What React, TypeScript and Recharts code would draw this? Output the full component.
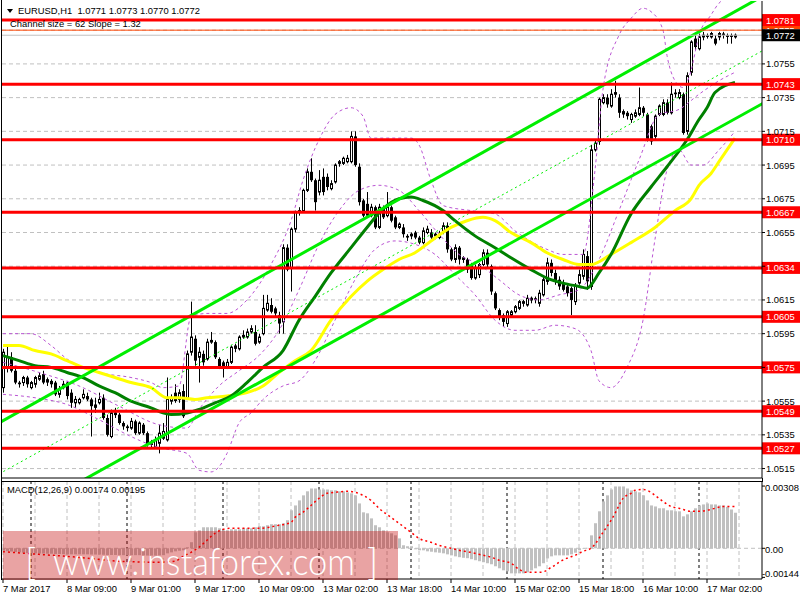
import React from 'react';
import { ComposedChart, Bar, Line, XAxis, YAxis, ReferenceLine, CartesianGrid } from 'recharts';

const FONT = "'Liberation Sans', Arial, sans-serif";

// EURUSD H1, one bar per hour, 7 Mar 17:00 .. 17 Mar 09:00
const opens = [
  1.0563, 1.0575, 1.0581, 1.0573, 1.0566, 1.0566, 1.0569, 1.0563, 1.0565, 1.0568,
  1.0571, 1.0568, 1.0567, 1.0566, 1.0559, 1.0563, 1.0566, 1.056, 1.0554, 1.0554,
  1.0557, 1.0558, 1.0556, 1.0553, 1.0554, 1.0557, 1.0545, 1.0534, 1.0547, 1.0547,
  1.0542, 1.054, 1.0539, 1.0543, 1.0536, 1.0541, 1.0536, 1.053, 1.0528, 1.053,
  1.0533, 1.0532, 1.0555, 1.056, 1.0556, 1.0561, 1.0557, 1.0584, 1.0592, 1.0581,
  1.0583, 1.058, 1.059, 1.059, 1.058, 1.0578, 1.0575, 1.0578, 1.0588, 1.0586,
  1.0593, 1.0593, 1.0596, 1.0596, 1.059, 1.0595, 1.0609, 1.0612, 1.061, 1.0606,
  1.0602, 1.0646, 1.0634, 1.0657, 1.0667, 1.0668, 1.068, 1.0691, 1.0686, 1.0679,
  1.0688, 1.0688, 1.0681, 1.0685, 1.0696, 1.0696, 1.0697, 1.0697, 1.0712, 1.0694,
  1.0674, 1.0672, 1.0665, 1.067, 1.0658, 1.067, 1.0665, 1.067, 1.0664, 1.0658,
  1.0658, 1.0653, 1.0653, 1.0655, 1.0652, 1.0649, 1.0655, 1.0655, 1.0653, 1.0652,
  1.0655, 1.0659, 1.0645, 1.0639, 1.0646, 1.0639, 1.0639, 1.0636, 1.0628, 1.063,
  1.0636, 1.0643, 1.0635, 1.0619, 1.0609, 1.0606, 1.0601, 1.0606, 1.0608, 1.061,
  1.0613, 1.0612, 1.0615, 1.0616, 1.0613, 1.0618, 1.0626, 1.0637, 1.0631, 1.0627,
  1.0625, 1.0623, 1.0622, 1.0614, 1.0625, 1.0629, 1.0641, 1.0623, 1.0704, 1.0709,
  1.0732, 1.0735, 1.073, 1.0737, 1.0735, 1.0727, 1.0726, 1.0722, 1.0724, 1.0725,
  1.0729, 1.0725, 1.0718, 1.0712, 1.0725, 1.0725, 1.0732, 1.0726, 1.0738, 1.0735,
  1.0737, 1.0715, 1.075, 1.077, 1.0764, 1.0771, 1.0772, 1.0771, 1.077, 1.0771,
  1.0773, 1.0772, 1.0772, 1.0771,
];
const highs = [
  1.0586, 1.0588, 1.0584, 1.0575, 1.0567, 1.057, 1.057, 1.0567, 1.057, 1.0572,
  1.0573, 1.0569, 1.0568, 1.0567, 1.0564, 1.0567, 1.0567, 1.0562, 1.0558, 1.0557,
  1.0562, 1.056, 1.0557, 1.0557, 1.056, 1.0559, 1.0547, 1.055, 1.0551, 1.0548,
  1.0543, 1.0541, 1.0545, 1.0544, 1.0543, 1.0542, 1.0537, 1.0532, 1.0534, 1.0541,
  1.0542, 1.0569, 1.0559, 1.0565, 1.0562, 1.0565, 1.0585, 1.0614, 1.0594, 1.0587,
  1.0585, 1.0592, 1.0596, 1.0591, 1.0581, 1.0579, 1.058, 1.0588, 1.0589, 1.0594,
  1.0597, 1.0598, 1.06, 1.06, 1.0595, 1.0618, 1.0618, 1.0616, 1.0611, 1.0608,
  1.0648, 1.0648, 1.0658, 1.0668, 1.067, 1.0681, 1.0693, 1.0699, 1.0687, 1.0692,
  1.0693, 1.069, 1.0686, 1.0696, 1.0698, 1.07, 1.0701, 1.0715, 1.0715, 1.0696,
  1.0675, 1.0679, 1.0672, 1.0671, 1.0672, 1.0671, 1.0679, 1.0671, 1.0665, 1.0661,
  1.066, 1.0654, 1.0655, 1.0656, 1.0653, 1.0658, 1.0659, 1.0657, 1.0655, 1.0656,
  1.0661, 1.0661, 1.0646, 1.0648, 1.0647, 1.0641, 1.064, 1.0637, 1.0636, 1.0637,
  1.0645, 1.0645, 1.0636, 1.062, 1.061, 1.0607, 1.0609, 1.0609, 1.0612, 1.0615,
  1.0615, 1.0618, 1.0617, 1.0617, 1.0621, 1.0629, 1.064, 1.0639, 1.0633, 1.0629,
  1.0627, 1.0624, 1.0623, 1.0625, 1.0633, 1.0645, 1.0644, 1.0707, 1.071, 1.0735,
  1.0737, 1.0737, 1.074, 1.0745, 1.0737, 1.0728, 1.0727, 1.0726, 1.0728, 1.0741,
  1.073, 1.0726, 1.0719, 1.0725, 1.0731, 1.0734, 1.0734, 1.0744, 1.074, 1.074,
  1.0738, 1.075, 1.0769, 1.0772, 1.0773, 1.0774, 1.0773, 1.0774, 1.0772, 1.0774,
  1.0774, 1.0773, 1.0773, 1.0773,
];
const lows = [
  1.056, 1.0572, 1.0572, 1.0565, 1.0563, 1.0564, 1.0563, 1.0562, 1.0563, 1.0567,
  1.0565, 1.0564, 1.0563, 1.0558, 1.0557, 1.0562, 1.0556, 1.0551, 1.0551, 1.0553,
  1.0556, 1.0555, 1.0534, 1.0548, 1.0553, 1.0544, 1.0534, 1.0533, 1.0545, 1.0541,
  1.0538, 1.0537, 1.0538, 1.0535, 1.0535, 1.0535, 1.0528, 1.0527, 1.0527, 1.0524,
  1.0532, 1.0531, 1.0553, 1.0554, 1.0554, 1.0545, 1.0556, 1.0582, 1.0576, 1.0566,
  1.0576, 1.0579, 1.0589, 1.058, 1.0574, 1.0569, 1.0574, 1.0577, 1.0584, 1.0585,
  1.0592, 1.0592, 1.0595, 1.0588, 1.0589, 1.0594, 1.0608, 1.0607, 1.0605, 1.0595,
  1.0595, 1.0632, 1.062, 1.0655, 1.0665, 1.0667, 1.0679, 1.0685, 1.0668, 1.0677,
  1.0677, 1.068, 1.068, 1.0684, 1.0694, 1.0695, 1.0696, 1.0696, 1.0694, 1.0671,
  1.0664, 1.0664, 1.0664, 1.0657, 1.0657, 1.0663, 1.0664, 1.0661, 1.0657, 1.0657,
  1.0652, 1.065, 1.0651, 1.0651, 1.0648, 1.0648, 1.0654, 1.0651, 1.0651, 1.0651,
  1.0654, 1.0643, 1.0638, 1.0637, 1.0636, 1.0637, 1.0631, 1.0627, 1.0627, 1.0628,
  1.0635, 1.0634, 1.0618, 1.0609, 1.0603, 1.0599, 1.0599, 1.0605, 1.0607, 1.0609,
  1.0611, 1.0611, 1.0613, 1.0613, 1.0611, 1.0617, 1.0624, 1.0629, 1.0624, 1.0621,
  1.062, 1.0617, 1.0606, 1.0612, 1.0624, 1.0627, 1.0621, 1.0621, 1.0703, 1.0707,
  1.0731, 1.0729, 1.0729, 1.0735, 1.0723, 1.0723, 1.0722, 1.072, 1.0723, 1.0724,
  1.0724, 1.0709, 1.0707, 1.071, 1.0724, 1.0724, 1.0725, 1.0725, 1.0735, 1.0734,
  1.0713, 1.0713, 1.0748, 1.0763, 1.0763, 1.0769, 1.077, 1.077, 1.0766, 1.0769,
  1.077, 1.0767, 1.0767, 1.077,
];
const closes = [
  1.0584, 1.0581, 1.0573, 1.0566, 1.0565, 1.0569, 1.0565, 1.0566, 1.0569, 1.057,
  1.0566, 1.0566, 1.0565, 1.0559, 1.0562, 1.0565, 1.0558, 1.0554, 1.0556, 1.0556,
  1.0559, 1.0556, 1.0552, 1.0551, 1.0556, 1.0545, 1.0535, 1.0548, 1.0548, 1.0542,
  1.054, 1.0539, 1.0543, 1.0536, 1.0542, 1.0536, 1.0529, 1.0529, 1.0532, 1.0536,
  1.0537, 1.0556, 1.0557, 1.0555, 1.056, 1.0546, 1.0583, 1.0593, 1.0579, 1.0584,
  1.0578, 1.059, 1.0591, 1.0581, 1.0575, 1.0575, 1.0578, 1.0587, 1.0586, 1.0593,
  1.0594, 1.0596, 1.0598, 1.0589, 1.0593, 1.061, 1.0613, 1.0608, 1.0607, 1.0601,
  1.0646, 1.0633, 1.0657, 1.0667, 1.0668, 1.068, 1.0691, 1.0686, 1.0673, 1.0686,
  1.0679, 1.0682, 1.0684, 1.0695, 1.0697, 1.0699, 1.0699, 1.0712, 1.0695, 1.0673,
  1.0665, 1.0665, 1.067, 1.0658, 1.067, 1.0664, 1.067, 1.0662, 1.0658, 1.066,
  1.0654, 1.0652, 1.0654, 1.0652, 1.0649, 1.0656, 1.0657, 1.0652, 1.0654, 1.0654,
  1.0659, 1.0645, 1.0639, 1.0646, 1.0639, 1.064, 1.0633, 1.0628, 1.0634, 1.0636,
  1.0643, 1.0636, 1.062, 1.061, 1.0605, 1.0602, 1.0608, 1.0608, 1.0611, 1.0614,
  1.0614, 1.0616, 1.0616, 1.0615, 1.0619, 1.0627, 1.0637, 1.0631, 1.0626, 1.0623,
  1.0621, 1.0619, 1.0615, 1.0623, 1.063, 1.0642, 1.0626, 1.0704, 1.0708, 1.0734,
  1.0735, 1.0731, 1.0737, 1.0738, 1.0726, 1.0725, 1.0724, 1.0725, 1.0726, 1.0729,
  1.0726, 1.071, 1.0709, 1.0724, 1.073, 1.0732, 1.0726, 1.0737, 1.0737, 1.0738,
  1.0714, 1.0748, 1.0768, 1.0765, 1.0771, 1.0772, 1.0771, 1.0773, 1.0767, 1.0773,
  1.0772, 1.0771, 1.0771, 1.0772,
];

// indicator lines, as [bar index, price]
const maYellow = [
  [0, 1.0588], [4, 1.0588], [8, 1.0585], [12, 1.0583], [16, 1.0579], [20, 1.0575], [24, 1.0572],
  [28, 1.0569], [32, 1.0566], [37, 1.0563], [41, 1.0557], [44, 1.0557], [48, 1.0556], [51, 1.0557],
  [56, 1.0558], [61, 1.056], [65, 1.0564], [69, 1.0572], [73, 1.0579], [77, 1.0585], [82, 1.0603],
  [87, 1.0617], [91, 1.0626], [95, 1.0633], [99, 1.0639], [103, 1.0643], [107, 1.065], [112, 1.0658],
  [116, 1.0662], [120, 1.0664], [123, 1.0662], [127, 1.0655], [132, 1.0649], [136, 1.0643],
  [140, 1.0639], [144, 1.0636], [147, 1.0636], [152, 1.0642], [157, 1.0649], [163, 1.0658],
  [168, 1.0668], [172, 1.0675], [174, 1.0683], [177, 1.069], [179, 1.0697], [183, 1.0711],
];
const maGreen = [
  [0, 1.0582], [4, 1.0579], [8, 1.0576], [12, 1.0575], [16, 1.0572], [20, 1.0569], [24, 1.0564],
  [28, 1.056], [32, 1.0555], [37, 1.0551], [40, 1.0548], [42, 1.0547], [46, 1.0548], [49, 1.055],
  [53, 1.0554], [57, 1.0558], [61, 1.0566], [65, 1.0575], [70, 1.0585], [74, 1.0603], [78, 1.0617],
  [82, 1.0631], [87, 1.0646], [91, 1.0658], [95, 1.0669], [99, 1.0675], [102, 1.0676], [105, 1.0674],
  [110, 1.0668], [113, 1.0662], [118, 1.0653], [123, 1.0646], [127, 1.064], [132, 1.0633],
  [136, 1.0628], [140, 1.0625], [144, 1.0623], [146, 1.0622], [149, 1.0631], [152, 1.0642],
  [157, 1.0666], [162, 1.0682], [166, 1.0694], [171, 1.071], [174, 1.0722], [176, 1.0729],
  [178, 1.0738], [183, 1.0744],
];
const bandUpper = [
  [0, 1.0595], [7, 1.0595], [12, 1.0588], [16, 1.058], [24, 1.0572], [32, 1.0569], [37, 1.0566],
  [40, 1.0563], [44, 1.0564], [47, 1.0605], [51, 1.0607], [56, 1.0607], [61, 1.0615], [67, 1.0636],
  [72, 1.0662], [75, 1.0686], [79, 1.071], [83, 1.0725], [87, 1.0729], [90, 1.0724], [92, 1.0711],
  [97, 1.0711], [102, 1.0711], [104, 1.0707], [107, 1.0686], [110, 1.0671], [117, 1.0668],
  [123, 1.0666], [128, 1.0656], [136, 1.0645], [140, 1.0642], [145, 1.0642], [148, 1.0692],
  [150, 1.074], [154, 1.0772], [157, 1.0782], [160, 1.0788], [162, 1.0786], [165, 1.0775],
  [166, 1.076], [168, 1.0745], [170, 1.0741], [172, 1.0751], [174, 1.0772], [177, 1.0784],
  [179, 1.0791], [183, 1.0796],
];
const bandMiddle = [
  [0, 1.0578], [9, 1.0572], [19, 1.0564], [29, 1.0552], [39, 1.0541], [46, 1.0539], [49, 1.055],
  [54, 1.0564], [59, 1.0573], [64, 1.0582], [69, 1.0597], [74, 1.0621], [79, 1.0648], [84, 1.0668],
  [89, 1.068], [94, 1.0683], [99, 1.068], [104, 1.0668], [109, 1.0654], [114, 1.0642], [119, 1.0636],
  [124, 1.0627], [129, 1.0618], [134, 1.0615], [139, 1.0618], [144, 1.0621], [149, 1.0639],
  [154, 1.0668], [159, 1.0698], [164, 1.0725], [169, 1.0728], [174, 1.0737], [179, 1.0745],
  [183, 1.075],
];
const bandLower = [
  [0, 1.0559], [8, 1.0557], [16, 1.0553], [24, 1.0544], [32, 1.0534], [37, 1.0529], [40, 1.0527],
  [46, 1.0524], [49, 1.0514], [52, 1.0513], [54, 1.0516], [56, 1.0524], [59, 1.0542], [62, 1.0548],
  [65, 1.0556], [70, 1.0564], [74, 1.0567], [78, 1.0579], [83, 1.0603], [88, 1.0627], [93, 1.0645],
  [98, 1.065], [103, 1.0648], [108, 1.0642], [113, 1.063], [118, 1.0618], [123, 1.0603],
  [128, 1.0597], [133, 1.0597], [138, 1.06], [143, 1.0598], [147, 1.0585], [149, 1.0567],
  [152, 1.0563], [156, 1.0575], [160, 1.0603], [163, 1.0651], [166, 1.0692], [169, 1.0704],
  [172, 1.0695], [175, 1.0695], [179, 1.0704], [183, 1.0715],
];

// regression channel: straight lines, two ends each
const channelUpper = [[-1, 1.05421], [190, 1.07953]];
const channelMiddle = [[-1, 1.05118], [190, 1.0763]];
const channelLower = [[-1, 1.04805], [190, 1.07316]];

const levels = [1.0781, 1.0743, 1.071, 1.0667, 1.0634, 1.0605, 1.0575, 1.0549, 1.0527];
const askPrice = 1.0775;
const bidPrice = 1.0772;
const priceTicks = [
  1.0515, 1.0535, 1.0555, 1.0575, 1.0595, 1.0615, 1.0635, 1.0655, 1.0675, 1.0695, 1.0715, 1.0735,
  1.0755, 1.0775,
];
const coveredTicks = [1.0575, 1.0635, 1.0775];

const macdHist = [
  -0.00012, -0.00014, -0.00016, -0.00018, -0.0002, -0.00022, -0.00024, -0.00024, -0.00025, -0.00026,
  -0.00026, -0.00027, -0.00027, -0.00028, -0.00028, -0.00029, -0.0003, -0.0003, -0.0003, -0.0003,
  -0.0003, -0.0003, -0.00031, -0.00031, -0.00031, -0.00032, -0.00033, -0.00033, -0.00033, -0.00034,
  -0.00034, -0.00034, -0.00034, -0.00034, -0.00034, -0.00035, -0.00036, -0.00036, -0.00036, -0.00035,
  -0.00034, -0.00025, -0.0002, -0.00015, -0.00012, -0.0001, 0.00005, 0.0003, 0.00079, 0.00089,
  0.00104, 0.00104, 0.00104, 0.00104, 0.00099, 0.00089, 0.00089, 0.00094, 0.00094, 0.00094,
  0.00099, 0.00099, 0.00099, 0.00104, 0.00109, 0.00109, 0.00114, 0.00119, 0.00119, 0.00119,
  0.00124, 0.00139, 0.00188, 0.00212, 0.00237, 0.00262, 0.00282, 0.00296, 0.00296, 0.00291,
  0.00291, 0.00291, 0.00287, 0.00287, 0.00282, 0.00282, 0.00277, 0.00272, 0.00262, 0.00222,
  0.00178, 0.00173, 0.00148, 0.00114, 0.00104, 0.00089, 0.00079, 0.00074, 0.00064, 0.00049,
  0.00015, 0.0001, 0.0001, -0.00005, -0.0001, -0.0001, -0.00015, -0.00017, -0.0002, -0.00022,
  -0.00025, -0.0003, -0.00035, -0.0004, -0.00044, -0.00047, -0.00049, -0.00054, -0.00059, -0.00064,
  -0.00069, -0.00074, -0.00079, -0.00089, -0.00099, -0.00109, -0.00114, -0.00124, -0.00124, -0.00124,
  -0.00124, -0.00119, -0.00109, -0.00099, -0.00089, -0.00074, -0.0005, -0.0004, -0.00035, -0.00035,
  -0.00035, -0.00035, -0.0003, -0.00022, -0.0001, -0.00002, 0.00002, 0.00064, 0.00124, 0.00183,
  0.00232, 0.00262, 0.00291, 0.00306, 0.00306, 0.00306, 0.00296, 0.00287, 0.00282, 0.00277,
  0.00262, 0.00237, 0.00212, 0.00207, 0.00198, 0.00198, 0.00188, 0.00188, 0.00183, 0.00183,
  0.00158, 0.00168, 0.00183, 0.00198, 0.00212, 0.00217, 0.00222, 0.00217, 0.00217, 0.00212,
  0.00212, 0.00205, 0.00192, 0.00176,
];
const macdSignal = [
  [0, -0.00017], [2, -0.0002], [9, -0.0003], [19, -0.00045], [29, -0.00064], [39, -0.00069],
  [43, -0.00064], [45, -0.0004], [47, -0.0002], [49, 0.00005], [51, 0.0004], [53, 0.00074],
  [55, 0.00094], [57, 0.00099], [64, 0.00099], [69, 0.00114], [72, 0.00128], [73, 0.00153],
  [75, 0.00178], [77, 0.00212], [79, 0.00247], [81, 0.00272], [83, 0.00277], [86, 0.00282],
  [88, 0.00277], [90, 0.00262], [92, 0.00237], [94, 0.00198], [97, 0.00153], [99, 0.00124],
  [102, 0.00079], [104, 0.00049], [107, 0.0003], [109, 0.00015], [112, 0], [114, -0.0001],
  [117, -0.0002], [119, -0.0003], [122, -0.00044], [124, -0.00059], [127, -0.00074], [129, -0.00104],
  [131, -0.00119], [134, -0.00119], [136, -0.00109], [137, -0.00094], [138, -0.00084], [139, -0.00069],
  [141, -0.00049], [143, -0.00035], [145, -0.00015], [147, 0], [148, 0.0002], [149, 0.00049],
  [150, 0.00079], [152, 0.00138], [153, 0.00173], [154, 0.00212], [155, 0.00247], [157, 0.00272],
  [158, 0.00287], [160, 0.00291], [161, 0.00287], [163, 0.00262], [164, 0.00247], [165, 0.00232],
  [167, 0.00207], [169, 0.00198], [172, 0.00183], [174, 0.00183], [176, 0.00188], [178, 0.00198],
  [180, 0.00207], [183, 0.00207],
];
const macdTicks = [0.00308, 0, -0.00144];
const macdTickLabels = ['0.00308', '0.00', '-0.00144'];

const timeTicks = [0, 16, 32, 48, 64, 80, 96, 112, 128, 144, 160, 176];
const timeLabels = [
  '7 Mar 2017', '8 Mar 09:00', '9 Mar 01:00', '9 Mar 17:00', '10 Mar 09:00', '13 Mar 02:00',
  '13 Mar 18:00', '14 Mar 10:00', '15 Mar 02:00', '15 Mar 18:00', '16 Mar 10:00', '17 Mar 02:00',
];
const gridBars = [
  0, 8, 16, 24, 32, 40, 48, 56, 64, 72, 80, 88, 96, 104, 112, 120, 128, 136, 144, 152, 160, 168,
  176, 184,
];
const dayStarts = [7, 31, 55, 79, 102, 126, 150, 174];

// one row per bar index, the extra rows carry the channel ends
const mainRows: any[] = [];
for (let i = -1; i <= 190; i++) mainRows.push({ i });
const at = (i: number) => mainRows[i + 1];
opens.forEach((o, i) => {
  Object.assign(at(i), { o, h: highs[i], l: lows[i], c: closes[i], hl: [lows[i], highs[i]] });
});
const put = (pts: number[][], key: string) => pts.forEach(([i, v]) => { at(i)[key] = v; });
put(maYellow, 'maY');
put(maGreen, 'maG');
put(bandUpper, 'bbU');
put(bandMiddle, 'bbM');
put(bandLower, 'bbL');
put(channelUpper, 'chU');
put(channelMiddle, 'chM');
put(channelLower, 'chL');

const macdRows: any[] = macdHist.map((h, i) => ({ i, h }));
macdSignal.forEach(([i, v]) => { macdRows[i].sig = v; });

const X_DOMAIN = [-0.25, 189.75];

function Candle(props: any) {
  const { x, y, width, height, payload } = props;
  if (!payload || payload.o == null || !height) return <g />;
  const cx = Math.round(x + width / 2);
  const k = height / (payload.h - payload.l);
  const yO = y + (payload.h - payload.o) * k;
  const yC = y + (payload.h - payload.c) * k;
  const top = Math.min(yO, yC);
  const bodyH = Math.max(Math.abs(yO - yC), 1);
  const up = payload.c > payload.o;
  return (
    <g>
      <line x1={cx + 0.5} x2={cx + 0.5} y1={y} y2={y + height} stroke="#000" strokeWidth={1} />
      {up ? (
        <rect x={cx - 0.5} y={top} width={2} height={bodyH} fill="#fff" stroke="#000" strokeWidth={1} />
      ) : (
        <rect x={cx - 1} y={top} width={3} height={bodyH} fill="#000" />
      )}
    </g>
  );
}

function HistBar(props: any) {
  const { x, y, width, height } = props;
  if (height == null || isNaN(height)) return <g />;
  const cx = Math.round(x + width / 2);
  const top = height < 0 ? y + height : y;
  return <rect x={cx - 1} y={top} width={3} height={Math.abs(height)} fill="#c0c0c0" />;
}

function PriceTick(props: any) {
  const { x, y, payload } = props;
  if (coveredTicks.includes(payload.value)) return <g />;
  return (
    <text x={x} y={y} dy={3.5} fontSize={9.4} fontFamily={FONT} fill="#000">
      {payload.value.toFixed(4)}
    </text>
  );
}

function MacdTick(props: any) {
  const { x, y, payload } = props;
  const idx = macdTicks.indexOf(payload.value);
  const neg = payload.value < 0;
  return (
    <text x={neg ? x - 4 : x - 1} y={neg ? y - 4 : y + 1} dy={3.5} fontSize={9.4} fontFamily={FONT} fill="#000">
      {macdTickLabels[idx]}
    </text>
  );
}

function TimeTick(props: any) {
  const { x, y, payload } = props;
  const idx = timeTicks.indexOf(payload.value);
  return (
    <text x={x} y={y} dy={9} fontSize={9.4} fontFamily={FONT} fill="#000">
      {timeLabels[idx]}
    </text>
  );
}

// price tag on the right scale; `shown` limits it to the strip left uncovered
function Tag(props: any) {
  const { viewBox, text, bg, shown, clipId } = props;
  if (!viewBox) return null;
  const x = viewBox.x + viewBox.width;
  const y = viewBox.y;
  const body = (
    <g>
      <rect x={x} y={y - 6} width={38} height={12} fill={bg} />
      <text x={x + 4} y={y + 3.5} fill="#fff" fontSize={9.4} fontFamily={FONT}>
        {text}
      </text>
    </g>
  );
  if (!shown) return body;
  return (
    <g>
      <defs>
        <clipPath id={clipId}>
          <rect x={x} y={y - 6} width={38} height={shown} />
        </clipPath>
      </defs>
      <g clipPath={`url(#${clipId})`}>{body}</g>
    </g>
  );
}

export default function App() {
  return (
    <div style={{ position: 'absolute', left: 0, top: 0, width: 800, height: 600, background: '#fff', overflow: 'hidden' }}>
      <div style={{ position: 'absolute', left: 0, top: 0 }}>
        <ComposedChart width={800} height={480} data={mainRows} margin={{ top: 1, right: 0, bottom: 1, left: 2 }}>
          <CartesianGrid horizontalValues={priceTicks} verticalValues={gridBars} stroke="#c0c0c0" strokeDasharray="4 3" />
          <CartesianGrid horizontal={false} verticalValues={dayStarts} stroke="#000" strokeDasharray="3 3" />
          <XAxis dataKey="i" type="number" domain={X_DOMAIN} allowDataOverflow ticks={gridBars} tick={false} tickLine={false} axisLine={{ stroke: '#000' }} height={1} />
          <YAxis
            orientation="right"
            type="number"
            domain={[1.05094, 1.07923]}
            allowDataOverflow
            ticks={priceTicks}
            interval={0}
            width={38}
            tickSize={3}
            tickMargin={1}
            axisLine={{ stroke: '#000' }}
            tickLine={{ stroke: '#000' }}
            tick={<PriceTick />}
          />
          <Line dataKey="bbU" type="monotone" connectNulls stroke="#ba55d3" strokeWidth={1} strokeDasharray="3 3" dot={false} activeDot={false} isAnimationActive={false} />
          <Line dataKey="bbM" type="monotone" connectNulls stroke="#ba55d3" strokeWidth={1} strokeDasharray="3 3" dot={false} activeDot={false} isAnimationActive={false} />
          <Line dataKey="bbL" type="monotone" connectNulls stroke="#ba55d3" strokeWidth={1} strokeDasharray="3 3" dot={false} activeDot={false} isAnimationActive={false} />
          <Bar dataKey="hl" barSize={3} shape={(p: any) => <Candle {...p} />} isAnimationActive={false} />
          <Line dataKey="maY" type="monotone" connectNulls stroke="#ffff00" strokeWidth={3} dot={false} activeDot={false} isAnimationActive={false} />
          <Line dataKey="maG" type="monotone" connectNulls stroke="#008000" strokeWidth={3} dot={false} activeDot={false} isAnimationActive={false} />
          <Line dataKey="chM" type="linear" connectNulls stroke="#00ee00" strokeWidth={1} strokeDasharray="2 3" dot={false} activeDot={false} isAnimationActive={false} />
          <Line dataKey="chU" type="linear" connectNulls stroke="#00ee00" strokeWidth={3} dot={false} activeDot={false} isAnimationActive={false} />
          <Line dataKey="chL" type="linear" connectNulls stroke="#00ee00" strokeWidth={3} dot={false} activeDot={false} isAnimationActive={false} />
          <ReferenceLine y={bidPrice} stroke="#c0c0c0" strokeWidth={1} />
          <ReferenceLine
            y={askPrice}
            stroke="#ff4500"
            strokeWidth={1}
            label={<Tag text={askPrice.toFixed(4)} bg="#ff4500" shown={5} clipId="askTagClip" />}
          />
          {levels.map((p) => (
            <ReferenceLine key={p} y={p} stroke="#ff0000" strokeWidth={3} label={<Tag text={p.toFixed(4)} bg="#ff0000" />} />
          ))}
          <ReferenceLine y={bidPrice} stroke="none" label={<Tag text={bidPrice.toFixed(4)} bg="#000" />} />
        </ComposedChart>
      </div>
      <div style={{ position: 'absolute', left: 0, top: 481 }}>
        <ComposedChart width={800} height={119} data={macdRows} margin={{ top: 0, right: 0, bottom: 0, left: 2 }}>
          <CartesianGrid horizontal={false} verticalValues={gridBars} stroke="#c0c0c0" strokeDasharray="4 3" />
          <CartesianGrid horizontal={false} verticalValues={dayStarts} stroke="#000" strokeDasharray="3 3" />
          <XAxis
            dataKey="i"
            type="number"
            domain={X_DOMAIN}
            allowDataOverflow
            ticks={timeTicks}
            interval={0}
            height={21}
            tickSize={4}
            tickMargin={0}
            axisLine={{ stroke: '#000' }}
            tickLine={{ stroke: '#000' }}
            tick={<TimeTick />}
          />
          <YAxis
            orientation="right"
            type="number"
            domain={[-0.00152, 0.00333]}
            allowDataOverflow
            ticks={macdTicks}
            interval={0}
            width={38}
            tickSize={3}
            tickMargin={1}
            axisLine={{ stroke: '#000' }}
            tickLine={{ stroke: '#000' }}
            tick={<MacdTick />}
          />
          <ReferenceLine y={0} stroke="#c0c0c0" strokeDasharray="4 3" />
          <Bar dataKey="h" barSize={3} shape={(p: any) => <HistBar {...p} />} isAnimationActive={false} />
          <Line dataKey="sig" type="monotone" connectNulls stroke="#ff0000" strokeWidth={1.5} strokeDasharray="2 3" dot={false} activeDot={false} isAnimationActive={false} />
        </ComposedChart>
      </div>
      {/* panel frame */}
      <div style={{ position: 'absolute', left: 1, top: 0, width: 1, height: 580, background: '#000' }} />
      <div style={{ position: 'absolute', left: 1, top: 481, width: 762, height: 1, background: '#000' }} />
      <div style={{ position: 'absolute', left: 762, top: 478, width: 1, height: 4, background: '#000' }} />
      <svg width={800} height={600} style={{ position: 'absolute', left: 0, top: 0, pointerEvents: 'none' }}>
        <polygon points="7,9 13,9 10,13" fill="#000" />
        <text x={18} y={14} fontSize={9.4} fontFamily={FONT} fill="#000" xmlSpace="preserve">
          EURUSD,H1  1.0771 1.0773 1.0770 1.0772
        </text>
        <text x={10} y={27} fontSize={9.4} fontFamily={FONT} fill="#000">
          Channel size = 62 Slope = 1.32
        </text>
        <text x={7} y={493} fontSize={9.4} fontFamily={FONT} fill="#000">
          MACD(12,26,9) 0.00174 0.00195
        </text>
        <rect x={3} y={531} width={395} height={49} fill="rgba(194,0,0,0.36)" />
        <g fill="#fff" fontFamily="Lato, 'Open Sans', sans-serif" fontWeight={300}>
          <text x={25} y={575} fontSize={38}>[</text>
          <text x={53} y={575} fontSize={37} textLength={302} lengthAdjust="spacingAndGlyphs">
            www.instaforex.com
          </text>
          <text x={367} y={575} fontSize={38}>]</text>
        </g>
      </svg>
    </div>
  );
}
